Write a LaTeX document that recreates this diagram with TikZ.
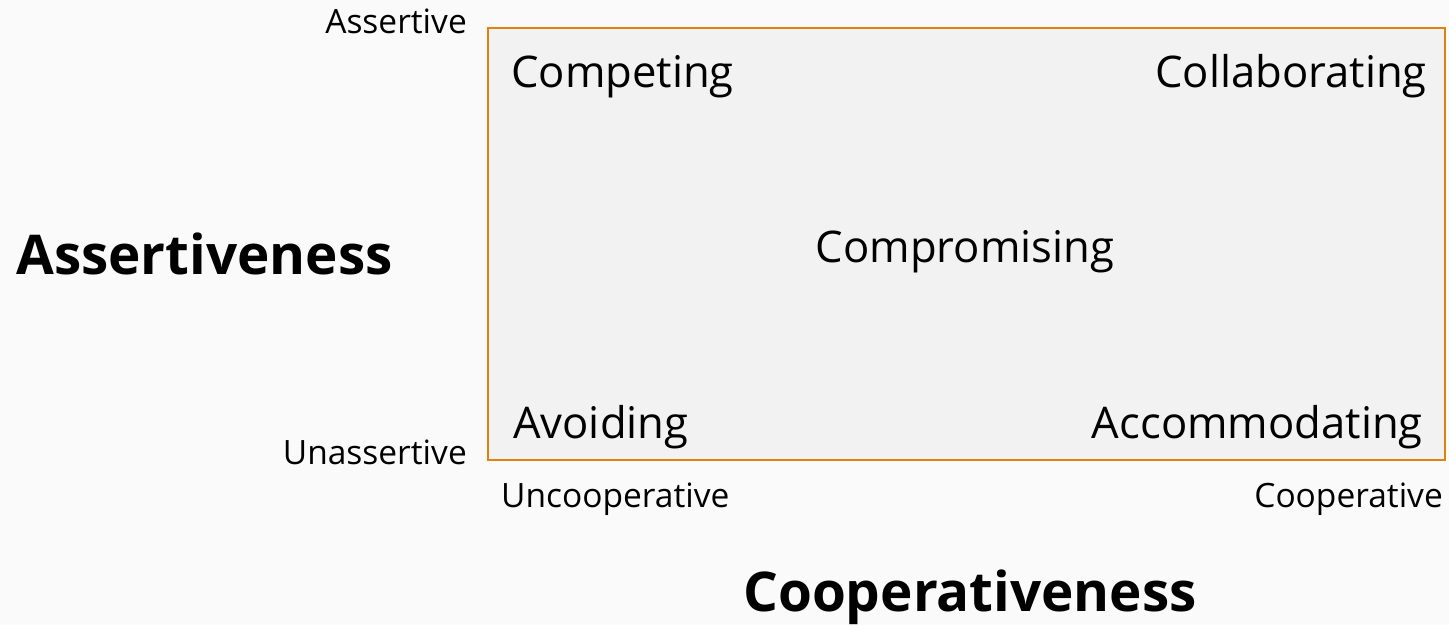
\documentclass[tikz,border=0pt]{standalone}
\usepackage{fontspec}
\setmainfont{Open Sans}
\definecolor{pagebg}{HTML}{FAFAFA}
\definecolor{gridfill}{HTML}{F2F2F2}
\definecolor{gridline}{HTML}{E0820F}
\tikzset{
  mode/.style={inner sep=0pt, font=\fontsize{43.6}{44}\selectfont},
  pole/.style={inner sep=0pt, font=\fontsize{33.5}{34}\selectfont},
  axis/.style={inner sep=0pt, font=\fontsize{54.8}{55}\selectfont\bfseries},
}
\begin{document}
\begin{tikzpicture}[x=1pt,y=-1pt]
  \fill[pagebg] (0,0) rectangle (1449,625);
  \useasboundingbox (0,0) rectangle (1449,625);
  \draw[gridline, fill=gridfill, line width=2pt] (488,28) rectangle (1445,460);
  % the five modes
  \node[mode, anchor=base west] (competing) at (511,87) {Competing};
  \node[mode, anchor=base east] (collaborating) at (1427,87) {Collaborating};
  \node[mode, anchor=base] (compromising) at (965,262) {Compromising};
  \node[mode, anchor=base west] (avoiding) at (513,438) {Avoiding};
  \node[mode, anchor=base east] (accommodating) at (1423,438) {Accommodating};
  % ends of the two scales
  \node[pole, anchor=base east] (assertive) at (467,33) {Assertive};
  \node[pole, anchor=base east] (unassertive) at (467,464) {Unassertive};
  \node[pole, anchor=base west] (uncooperative) at (501,507) {Uncooperative};
  \node[pole, anchor=base east] (cooperative) at (1443,507) {Cooperative};
  % axis titles
  \node[axis, anchor=base west] (assertiveness) at (16,274) {Assertiveness};
  \node[axis, anchor=base] (cooperativeness) at (970,611) {Cooperativeness};
\end{tikzpicture}
\end{document}
